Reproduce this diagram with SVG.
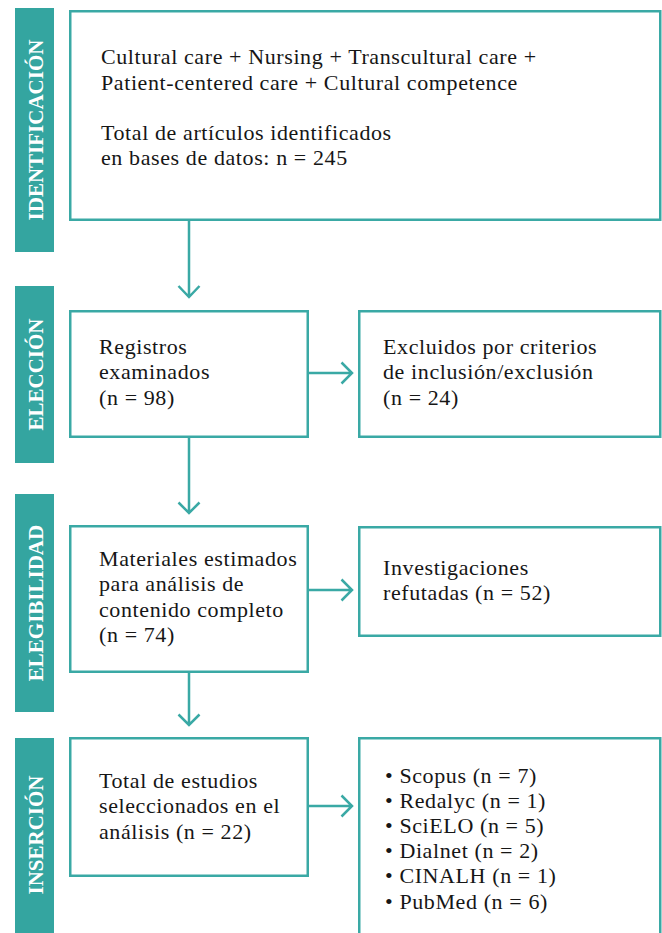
<svg xmlns="http://www.w3.org/2000/svg" width="662" height="933" viewBox="0 0 662 933">
<style>
.side{fill:#34a5a0;}
.sidet{font-family:"Liberation Serif",serif;font-weight:bold;font-size:21px;fill:#ffffff;text-anchor:middle;}
.box{fill:#ffffff;stroke:#3aa9a5;stroke-width:2.5;}
.t{font-family:"Liberation Serif",serif;font-size:22px;fill:#161616;letter-spacing:0.6px;}
.c{fill:none;stroke:#3aa9a5;stroke-width:2.5;}
</style>
<rect width="662" height="933" fill="#ffffff"/>
<g id="stages">
<g id="stage-identificacion"><rect class="side" x="15" y="8" width="39" height="244"/><text class="sidet" transform="translate(42.5,130) rotate(-90)">IDENTIFICACIÓN</text></g>
<g id="stage-eleccion"><rect class="side" x="15" y="286" width="39" height="177"/><text class="sidet" transform="translate(42.5,374.5) rotate(-90)">ELECCIÓN</text></g>
<g id="stage-elegibilidad"><rect class="side" x="15" y="494" width="39" height="218"/><text class="sidet" transform="translate(42.5,603) rotate(-90)">ELEGIBILIDAD</text></g>
<g id="stage-insercion"><rect class="side" x="15" y="738" width="39" height="200"/><text class="sidet" transform="translate(42.5,835) rotate(-90)">INSERCIÓN</text></g>
</g>
<g id="connectors">
<path class="c" d="M189,220 V297 M178.5,286 L189,297 L199.5,286"/>
<path class="c" d="M189,437 V513 M178.5,502.5 L189,513 L199.5,502.5"/>
<path class="c" d="M189,672 V725 M178.5,714.5 L189,725 L199.5,714.5"/>
<path class="c" d="M308,373 H352 M341.5,362.5 L352,373 L341.5,383.5"/>
<path class="c" d="M308,590 H352 M341.5,579.5 L352,590 L341.5,600.5"/>
<path class="c" d="M308,806 H352 M341.5,795.5 L352,806 L341.5,816.5"/>
</g>
<g id="node-busqueda"><rect class="box" x="70.25" y="11.25" width="590" height="208.5"/>
<text class="t" x="101" y="64">Cultural care + Nursing + Transcultural care +</text>
<text class="t" x="101" y="89.5">Patient-centered care + Cultural competence</text>
<text class="t" x="101" y="139.5">Total de artículos identificados</text>
<text class="t" x="101" y="165">en bases de datos: n = 245</text></g>
<g id="node-registros"><rect class="box" x="70.25" y="311.25" width="237.5" height="125.5"/>
<text class="t" x="99" y="353.5">Registros</text>
<text class="t" x="99" y="379">examinados</text>
<text class="t" x="99" y="404.5">(n = 98)</text></g>
<g id="node-excluidos"><rect class="box" x="359.25" y="311.25" width="301" height="125.5"/>
<text class="t" x="383" y="353.5">Excluidos por criterios</text>
<text class="t" x="383" y="379">de inclusión/exclusión</text>
<text class="t" x="383" y="404.5">(n = 24)</text></g>
<g id="node-materiales"><rect class="box" x="70.25" y="526.25" width="237.5" height="145.5"/>
<text class="t" x="99" y="566">Materiales estimados</text>
<text class="t" x="99" y="591.3">para análisis de</text>
<text class="t" x="99" y="616.6">contenido completo</text>
<text class="t" x="99" y="642">(n = 74)</text></g>
<g id="node-refutadas"><rect class="box" x="359.25" y="527.25" width="301" height="108.5"/>
<text class="t" x="383" y="574.5">Investigaciones</text>
<text class="t" x="383" y="600">refutadas (n = 52)</text></g>
<g id="node-total"><rect class="box" x="70.25" y="738.25" width="237.5" height="137.5"/>
<text class="t" x="99" y="787.5">Total de estudios</text>
<text class="t" x="99" y="813">seleccionados en el</text>
<text class="t" x="99" y="838.5">análisis (n = 22)</text></g>
<g id="node-bases"><rect class="box" x="359.25" y="738.25" width="301" height="210"/>
<text class="t" x="385" y="783">• Scopus (n = 7)</text>
<text class="t" x="385" y="808">• Redalyc (n = 1)</text>
<text class="t" x="385" y="833">• SciELO (n = 5)</text>
<text class="t" x="385" y="858">• Dialnet (n = 2)</text>
<text class="t" x="385" y="883.3">• CINALH (n = 1)</text>
<text class="t" x="385" y="908.5">• PubMed (n = 6)</text></g>
</svg>
